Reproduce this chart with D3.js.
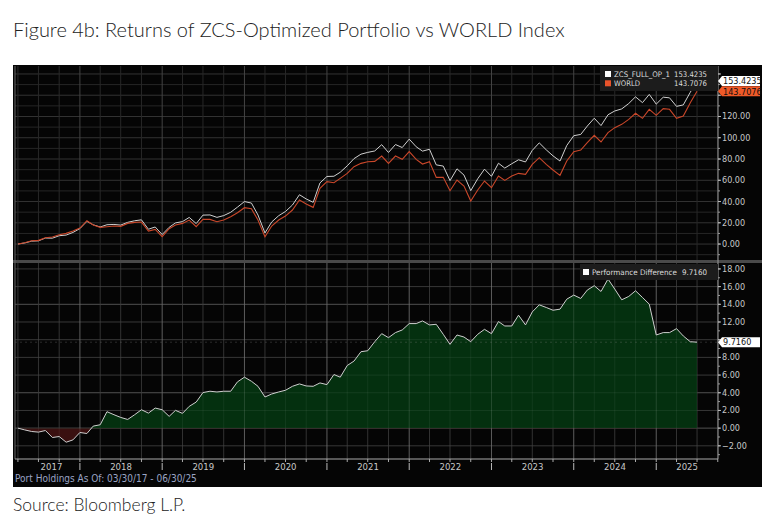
<!DOCTYPE html>
<html>
<head>
<meta charset="utf-8">
<script src="https://cdn.jsdelivr.net/npm/d3@7"></script>
<style>
  body { margin: 0; background: #fff; }
  .narrow { font-family: "Liberation Sans Narrow", "DejaVu Sans Condensed", sans-serif; }
</style>
</head>
<body>
<div id="chart"></div>
<script>
// monthly cumulative returns (%), month ends 03/2017 .. 06/2025
var world = [0, 1.25, 3.14, 3.45, 5.96, 6.59, 8.78, 10.04, 12.24, 15.06,
  21.96, 17.88, 15.69, 16.31, 16.94, 16.63, 19.45, 20.39, 20.71, 12.24,
  13.80, 6.90, 14.43, 17.88, 19.45, 22.59, 16.31, 23.22, 23.22, 21.02,
  22.59, 25.73, 29.49, 34.20, 33.25, 22.59, 6.90, 16.94, 22.59, 26.35,
  32.00, 41.41, 37.65, 34.51, 52.39, 58.67, 57.73, 61.80, 66.51, 72.78,
  75.92, 77.49, 77.80, 82.82, 75.92, 82.82, 79.69, 86.90, 79.69, 75.29,
  77.49, 62.75, 62.75, 50.20, 60.24, 54.59, 40.47, 50.82, 59.29, 53.02,
  64.00, 59.92, 64.00, 66.51, 65.57, 74.98, 81.25, 74.98, 69.65, 64.63,
  78.12, 86.90, 88.47, 95.37, 102.27, 96.00, 104.78, 109.49, 112.63, 117.33,
  122.98, 118.27, 126.75, 121.10, 127.37, 126.75, 118.27, 120.47, 133.02, 143.71];

var zcs = [0, 1.05, 2.76, 3.00, 5.69, 5.53, 7.83, 8.45, 10.91, 14.57,
  21.35, 18.11, 16.07, 18.17, 18.46, 17.84, 20.43, 21.91, 22.79, 13.94,
  16.07, 8.98, 15.76, 19.89, 21.12, 25.05, 19.26, 27.24, 27.39, 25.11,
  26.76, 29.90, 34.72, 39.96, 38.55, 27.32, 10.42, 20.80, 26.68, 30.63,
  36.73, 46.41, 42.42, 39.24, 57.50, 63.59, 63.79, 67.56, 73.59, 80.36,
  84.56, 86.24, 87.57, 93.50, 86.15, 93.62, 90.79, 98.72, 91.51, 87.41,
  89.16, 74.49, 73.36, 59.67, 70.77, 64.89, 50.24, 61.43, 70.46, 63.70,
  76.05, 71.47, 75.55, 79.28, 77.24, 88.12, 95.19, 88.62, 82.98, 78.08,
  92.70, 101.94, 103.13, 110.98, 118.37, 111.45, 121.64, 125.21, 127.14, 132.22,
  138.51, 133.04, 140.77, 131.63, 138.17, 137.55, 129.52, 130.89, 142.79, 153.42];

var perfDiff = [0, -0.20, -0.38, -0.45, -0.27, -1.06, -0.95, -1.59, -1.33, -0.49,
  -0.61, 0.23, 0.38, 1.86, 1.52, 1.21, 0.98, 1.52, 2.08, 1.70,
  2.27, 2.08, 1.33, 2.01, 1.67, 2.46, 2.95, 4.02, 4.17, 4.09,
  4.17, 4.17, 5.23, 5.76, 5.30, 4.73, 3.52, 3.86, 4.09, 4.28,
  4.73, 5.00, 4.77, 4.73, 5.11, 4.92, 6.06, 5.76, 7.08, 7.58,
  8.64, 8.75, 9.77, 10.68, 10.23, 10.80, 11.10, 11.82, 11.82, 12.12,
  11.67, 11.74, 10.61, 9.47, 10.53, 10.30, 9.77, 10.61, 11.17, 10.68,
  12.05, 11.55, 11.55, 12.77, 11.67, 13.14, 13.94, 13.64, 13.33, 13.45,
  14.58, 15.04, 14.66, 15.61, 16.10, 15.45, 16.86, 15.72, 14.51, 14.89,
  15.53, 14.77, 14.02, 10.53, 10.80, 10.80, 11.25, 10.42, 9.77, 9.72];

var seriesNames = ["ZCS_FULL_OP_1", "WORLD"];
var lastValues = ["153.4235", "143.7076"];
var diffName = "Performance Difference";
var diffLast = "9.7160";
var topTicks = [0, 20, 40, 60, 80, 100, 120, 140, 160];
var bottomTicks = [-2, 0, 2, 4, 6, 8, 10, 12, 14, 16, 18];
var yearLabels = [2017, 2018, 2019, 2020, 2021, 2022, 2023, 2024, 2025];

var W = 780, H = 520;
var left = 15, right = 718;
var topPanel = {y0: 66, y1: 260};
var botPanel = {y0: 263, y1: 459};

var firstMonth = new Date(Date.UTC(2017, 3, 1));
var dates = world.map(function(d, i) { return d3.utcMonth.offset(firstMonth, i); });

var svg = d3.select("#chart").append("svg")
  .attr("width", W).attr("height", H);

svg.append("text")
  .attr("x", 13).attr("y", 37)
  .style("font-family", "Lato, 'Open Sans', sans-serif")
  .style("font-size", "20px").style("font-weight", 300)
  .style("fill", "#222")
  .text("Figure 4b: Returns of ZCS-Optimized Portfolio vs WORLD Index");

svg.append("text")
  .attr("x", 13).attr("y", 511)
  .style("font-family", "Lato, 'Open Sans', sans-serif")
  .style("font-size", "17.5px").style("font-weight", 300)
  .style("fill", "#222")
  .text("Source: Bloomberg L.P.");

// black terminal panel
svg.append("rect")
  .attr("x", 13).attr("y", 65).attr("width", 749).attr("height", 422)
  .attr("fill", "#050505");

var x = d3.scaleUtc()
  .domain([new Date(Date.UTC(2017, 2, 19)), new Date(Date.UTC(2025, 9, 2))])
  .range([left, right]);

var yTop = d3.scaleLinear().domain([-15, 167.5]).range([topPanel.y1, topPanel.y0]);
var yBot = d3.scaleLinear().domain([-3.49, 18.67]).range([botPanel.y1, botPanel.y0]);

var quarters = d3.utcMonth.every(3).range(x.domain()[0], x.domain()[1]);
var yearStarts = d3.utcYear.range(x.domain()[0], x.domain()[1]);

function vGrid(panel) {
  var g = svg.append("g");
  g.selectAll("line").data(quarters).enter().append("line")
    .attr("x1", function(d) { return x(d); })
    .attr("x2", function(d) { return x(d); })
    .attr("y1", panel.y0).attr("y2", panel.y1)
    .attr("stroke", function(d) { return d.getUTCMonth() === 0 ? "#444" : "#282828"; })
    .attr("stroke-width", 1);
}

// top panel grid
svg.append("g").selectAll("line")
  .data(d3.range(-10, 161, 10)).enter().append("line")
  .attr("x1", left).attr("x2", right)
  .attr("y1", function(d) { return yTop(d); })
  .attr("y2", function(d) { return yTop(d); })
  .attr("stroke", function(d) { return d % 20 === 0 ? "#333" : "#262626"; });
vGrid(topPanel);

// bottom panel grid
svg.append("g").selectAll("line")
  .data(bottomTicks).enter().append("line")
  .attr("x1", left).attr("x2", right)
  .attr("y1", function(d) { return yBot(d); })
  .attr("y2", function(d) { return yBot(d); })
  .attr("stroke", function(d) { return (d === 4 || d === 14 || d === 0) ? "#444" : "#2a2a2a"; });
vGrid(botPanel);

// separator between panels
svg.append("rect")
  .attr("x", 13).attr("y", 260).attr("width", 749).attr("height", 3)
  .attr("fill", "#4a4a4a");

// top lines
var lineTop = function(vals) {
  return d3.line()
    .x(function(d, i) { return x(dates[i]); })
    .y(function(d) { return yTop(d); })(vals);
};
svg.append("path").attr("d", lineTop(zcs))
  .attr("fill", "none").attr("stroke", "#d0d0d0").attr("stroke-width", 1);
svg.append("path").attr("d", lineTop(world))
  .attr("fill", "none").attr("stroke", "#c9472a").attr("stroke-width", 1.1);

// bottom area, green above zero, red below
var defs = svg.append("defs");
defs.append("clipPath").attr("id", "clipPos").append("rect")
  .attr("x", left).attr("y", botPanel.y0).attr("width", right - left)
  .attr("height", yBot(0) - botPanel.y0);
defs.append("clipPath").attr("id", "clipNeg").append("rect")
  .attr("x", left).attr("y", yBot(0)).attr("width", right - left)
  .attr("height", botPanel.y1 - yBot(0));

var area = d3.area()
  .x(function(d, i) { return x(dates[i]); })
  .y0(yBot(0))
  .y1(function(d) { return yBot(d); });
svg.append("path").attr("d", area(perfDiff)).attr("fill", "#04300f").attr("clip-path", "url(#clipPos)");
svg.append("path").attr("d", area(perfDiff)).attr("fill", "#3a1010").attr("clip-path", "url(#clipNeg)");

// redraw grid faintly over the area
svg.append("g").selectAll("line")
  .data(quarters).enter().append("line")
  .attr("x1", function(d) { return x(d); }).attr("x2", function(d) { return x(d); })
  .attr("y1", botPanel.y0).attr("y2", botPanel.y1)
  .attr("stroke", "#fff").attr("stroke-opacity", function(d) { return d.getUTCMonth() === 0 ? 0.13 : 0.06; });
svg.append("g").selectAll("line")
  .data(bottomTicks).enter().append("line")
  .attr("x1", left).attr("x2", right)
  .attr("y1", function(d) { return yBot(d); }).attr("y2", function(d) { return yBot(d); })
  .attr("stroke", "#fff").attr("stroke-opacity", 0.07);

// last value level
svg.append("line")
  .attr("x1", left).attr("x2", right)
  .attr("y1", yBot(+diffLast)).attr("y2", yBot(+diffLast))
  .attr("stroke", "#888").attr("stroke-dasharray", "2,3").attr("stroke-opacity", 0.3);

svg.append("path")
  .attr("d", d3.line()
    .x(function(d, i) { return x(dates[i]); })
    .y(function(d) { return yBot(d); })(perfDiff))
  .attr("fill", "none").attr("stroke", "#cfcfcf").attr("stroke-width", 1);

// frame lines
svg.append("line").attr("x1", left).attr("x2", left).attr("y1", 66).attr("y2", botPanel.y1)
  .attr("stroke", "#666");
svg.append("line").attr("x1", right).attr("x2", right).attr("y1", 66).attr("y2", botPanel.y1)
  .attr("stroke", "#999");
svg.append("line").attr("x1", left).attr("x2", right).attr("y1", botPanel.y1).attr("y2", botPanel.y1)
  .attr("stroke", "#aaa");

// right axes; labels sitting under a last-value tag are hidden, as on the terminal
var tagYs = [yTop(+lastValues[0]), yTop(+lastValues[1]), yBot(+diffLast)];
function covered(y) {
  return tagYs.some(function(t) { return Math.abs(t - y) < 7; });
}
function rightAxis(scale, ticks, minor, fmt) {
  var g = svg.append("g").attr("class", "narrow");
  g.selectAll("line.minor").data(minor).enter().append("line")
    .attr("x1", right).attr("x2", right + 2)
    .attr("y1", function(d) { return scale(d); }).attr("y2", function(d) { return scale(d); })
    .attr("stroke", "#999");
  g.selectAll("line.major").data(ticks).enter().append("line")
    .attr("x1", right).attr("x2", right + 3)
    .attr("y1", function(d) { return scale(d); }).attr("y2", function(d) { return scale(d); })
    .attr("stroke", "#bbb");
  g.selectAll("text").data(ticks.filter(function(d) { return !covered(scale(d)); }))
    .enter().append("text")
    .attr("x", right + 4)
    .attr("y", function(d) { return scale(d) + 3; })
    .style("font-size", "9px").style("fill", "#c8c8c8")
    .text(fmt);
}
rightAxis(yTop, topTicks, d3.range(-10, 161, 10), d3.format(".2f"));
rightAxis(yBot, bottomTicks, d3.range(-3, 19, 1), d3.format(".2f"));

// x axis
var xg = svg.append("g").attr("class", "narrow");
xg.selectAll("line.q").data(quarters).enter().append("line")
  .attr("x1", function(d) { return x(d); }).attr("x2", function(d) { return x(d); })
  .attr("y1", botPanel.y1).attr("y2", botPanel.y1 + 3)
  .attr("stroke", "#aaa");
xg.selectAll("line.yr").data(yearStarts).enter().append("line")
  .attr("x1", function(d) { return x(d); }).attr("x2", function(d) { return x(d); })
  .attr("y1", botPanel.y1 + 4).attr("y2", botPanel.y1 + 11)
  .attr("stroke", "#bbb");
xg.selectAll("text").data(yearLabels).enter().append("text")
  .attr("x", function(d) {
    var a = Math.max(x(new Date(Date.UTC(d, 0, 1))), left);
    var b = Math.min(x(new Date(Date.UTC(d + 1, 0, 1))), right);
    return (a + b) / 2 + (d === 2017 ? 4 : 0);
  })
  .attr("y", botPanel.y1 + 11)
  .attr("text-anchor", "middle")
  .style("font-size", "9.5px").style("fill", "#c8c8c8")
  .text(function(d) { return d; });

svg.append("text").attr("class", "narrow")
  .attr("x", 15).attr("y", 482)
  .style("font-size", "10px").style("fill", "#9aa4c4")
  .text("Port Holdings As Of: 03/30/17 - 06/30/25");

// legends (terminal font is narrower than anything installed, so widths are pinned)
var colors = ["#ffffff", "#e8532b"];
var nameWidths = [56, 26];
var lg = svg.append("g").attr("class", "narrow");
function legendText(xp, yp, str, w, anchor) {
  lg.append("text").attr("x", xp).attr("y", yp)
    .attr("text-anchor", anchor || "start")
    .attr("textLength", w).attr("lengthAdjust", "spacingAndGlyphs")
    .style("font-size", "7.6px").style("fill", "#ddd").text(str);
}
lg.append("rect").attr("x", 600).attr("y", 66).attr("width", 118).attr("height", 25)
  .attr("fill", "#1c1c1c");
seriesNames.forEach(function(name, i) {
  var cy = 74 + i * 9.3;
  lg.append("rect").attr("x", 605).attr("y", cy - 3).attr("width", 6).attr("height", 6)
    .attr("fill", colors[i]);
  legendText(614, cy + 2.8, name, nameWidths[i]);
  legendText(707, cy + 2.8, lastValues[i], 33, "end");
});

lg.append("rect").attr("x", 580).attr("y", 264).attr("width", 138).attr("height", 16)
  .attr("fill", "#1c1c1c");
lg.append("rect").attr("x", 583).attr("y", 269).attr("width", 6).attr("height", 6).attr("fill", "#fff");
legendText(592, 274.9, diffName, 85);
legendText(707, 274.9, diffLast, 25, "end");

// last value tags
function tag(yc, label, fill, textFill) {
  var x0 = right, x1 = 760, h = 10;
  svg.append("path")
    .attr("d", "M" + x0 + "," + yc + "L" + (x0 + 4) + "," + (yc - h / 2) + "L" + x1 + "," + (yc - h / 2) +
      "L" + x1 + "," + (yc + h / 2) + "L" + (x0 + 4) + "," + (yc + h / 2) + "Z")
    .attr("fill", fill);
  svg.append("text").attr("class", "narrow")
    .attr("x", x0 + 5).attr("y", yc + 3.3)
    .style("font-size", "9px").style("fill", textFill).text(label);
}
tag(tagYs[0], lastValues[0], "#ffffff", "#111");
tag(tagYs[1], lastValues[1], "#f05a28", "#111");
tag(tagYs[2], diffLast, "#ffffff", "#111");
</script>
</body>
</html>
